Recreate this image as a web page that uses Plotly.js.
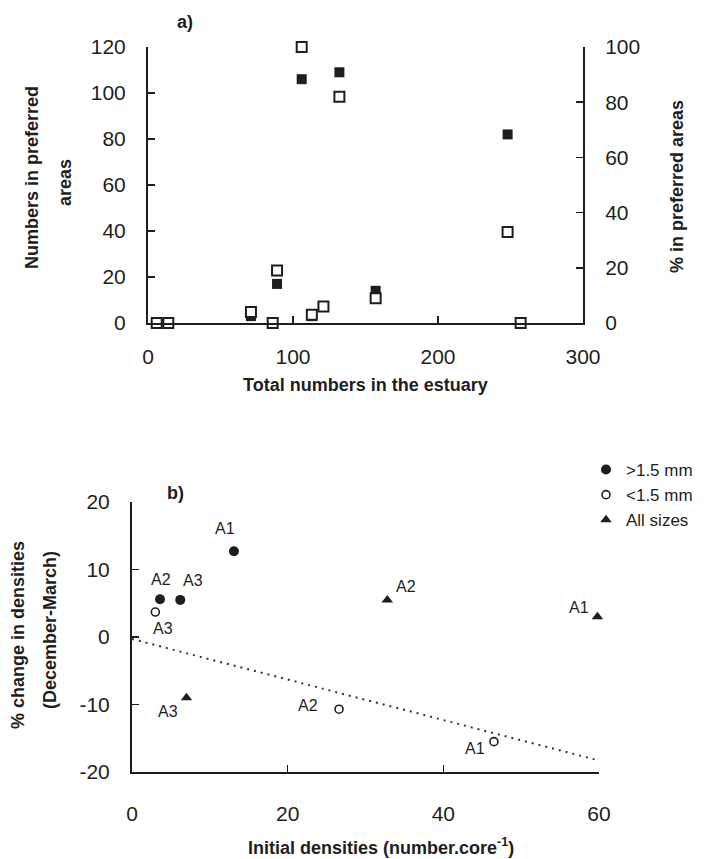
<!DOCTYPE html>
<html>
<head>
<meta charset="utf-8">
<script src="https://cdn.plot.ly/plotly-3.0.1.min.js"></script>
<style>html,body{margin:0;padding:0;background:#fff;}#chart{width:709px;height:859px;}</style>
</head>
<body>
<div id="chart"></div>
<script>
// ---- Panel a data ----
const totalA   = [6, 14, 71, 86, 89, 106, 113, 121, 132, 157, 248, 257];   // total numbers in the estuary
const numbersA = [0, 0, 3, 0, 17, 106, 3, 7, 109, 14, 82, 0];              // numbers in preferred areas (filled)
const pctA     = [0, 0, 4, 0, 19, 100, 3, 6, 82, 9, 33, 0];                // % in preferred areas (open)
const xTicksA  = [0, 100, 200, 300];

// ---- Panel b data ----
const bigX   = [13.1, 3.6, 6.2];
const bigY   = [12.7, 5.6, 5.5];
const bigLab = ['A1', 'A2', 'A3'];
const smallX   = [46.5, 26.6, 3.0];
const smallY   = [-15.5, -10.7, 3.7];
const smallLab = ['A1', 'A2', 'A3'];
const allX   = [59.8, 32.8, 7.0];
const allY   = [3.0, 5.5, -9.0];
const allLab = ['A1', 'A2', 'A3'];
const trendX = [0, 60];
const trendY = [-0.3, -18.3];
const xTicksB = [0, 20, 40, 60];
const yTicksB = [-20, -10, 0, 10, 20];
const yTickTextB = ['-20', '-10', '0', '10', '20'];
const seriesNames = ['>1.5 mm', '<1.5 mm', 'All sizes'];

// ---- layout helpers (pixel -> paper) ----
const W = 709, H = 859;
const px = x => x / W;
const py = y => 1 - y / H;
const FONT = '"Liberation Sans", Arial, sans-serif';
const INK = '#1e1e1e';

// label offsets (style only): [xshift, yshift] in px
const bigOff   = [[-9, 23], [1, 20], [13, 19]];
const smallOff = [[-19, -7], [-31, 4], [8, -16]];
const allOff   = [[-18, 9], [19, 13], [-18, -14]];

const traces = [
  { x: totalA, y: numbersA, xaxis: 'x', yaxis: 'y', type: 'scatter', mode: 'markers',
    marker: { symbol: 'square', size: 10, color: INK, line: { width: 0 } },
    showlegend: false, cliponaxis: false, hoverinfo: 'skip' },
  { x: totalA, y: pctA, xaxis: 'x', yaxis: 'y2', type: 'scatter', mode: 'markers',
    marker: { symbol: 'square', size: 10, color: 'white', line: { width: 2, color: INK } },
    showlegend: false, cliponaxis: false, hoverinfo: 'skip' },
  { x: trendX, y: trendY, xaxis: 'x2', yaxis: 'y3', type: 'scatter', mode: 'lines',
    line: { color: '#333', width: 2, dash: '2px,5px' }, showlegend: false, hoverinfo: 'skip' },
  { x: bigX, y: bigY, xaxis: 'x2', yaxis: 'y3', type: 'scatter', mode: 'markers', name: seriesNames[0],
    marker: { symbol: 'circle', size: 10, color: INK, line: { width: 0 } }, cliponaxis: false },
  { x: smallX, y: smallY, xaxis: 'x2', yaxis: 'y3', type: 'scatter', mode: 'markers', name: seriesNames[1],
    marker: { symbol: 'circle', size: 8, color: 'white', line: { width: 1.6, color: INK } }, cliponaxis: false },
  { x: allX, y: allY, xaxis: 'x2', yaxis: 'y3', type: 'scatter', mode: 'markers', name: seriesNames[2],
    marker: { symbol: 'triangle-up', size: 10, color: INK, line: { width: 0 } }, cliponaxis: false }
];

const annotations = [];
function addLabels(xs, ys, labs, offs) {
  for (let i = 0; i < xs.length; i++) {
    annotations.push({ x: xs[i], y: ys[i], xref: 'x2', yref: 'y3', text: labs[i], showarrow: false,
      xshift: offs[i][0], yshift: offs[i][1], xanchor: 'center', yanchor: 'middle',
      font: { family: FONT, size: 16, color: INK } });
  }
}
addLabels(bigX, bigY, bigLab, bigOff);
addLabels(smallX, smallY, smallLab, smallOff);
addLabels(allX, allY, allLab, allOff);

function paperText(text, x, y, opts) {
  annotations.push(Object.assign({ text: text, x: px(x), y: py(y), xref: 'paper', yref: 'paper',
    showarrow: false, xanchor: 'center', yanchor: 'middle',
    font: { family: FONT, size: 18, color: INK, weight: 'bold' } }, opts || {}));
}
paperText('<b>a)</b>', 185, 22);
paperText('<b>b)</b>', 175, 493);
paperText('<b>Numbers in preferred</b>', 32, 178, { textangle: -90 });
paperText('<b>areas</b>', 65, 183, { textangle: -90 });
paperText('<b>% in preferred areas</b>', 677, 187, { textangle: -90 });
paperText('<b>Total numbers in the estuary</b>', 365, 385);
paperText('<b>% change in densities</b>', 18, 635, { textangle: -90 });
paperText('<b>(December-March)</b>', 50, 630, { textangle: -90 });
paperText('<b>Initial densities (number.core<sup>-1</sup>)</b>', 381, 846);

const axisCommon = {
  showline: true, linewidth: 2, linecolor: INK, showgrid: false, zeroline: false,
  ticks: 'inside', ticklen: 7, tickwidth: 1.5, tickcolor: INK,
  tickfont: { family: FONT, size: 21, color: INK }, fixedrange: true
};

const layout = {
  width: W, height: H,
  margin: { l: 0, r: 0, t: 0, b: 0 },
  paper_bgcolor: 'white', plot_bgcolor: 'rgba(0,0,0,0)',
  font: { family: FONT, color: INK },
  showlegend: true,
  legend: { x: px(586), y: py(452), xanchor: 'left', yanchor: 'top',
    font: { family: FONT, size: 17, color: INK }, bgcolor: 'rgba(0,0,0,0)',
    itemwidth: 30, tracegroupgap: 0, itemclick: false },
  xaxis: Object.assign({}, axisCommon, { domain: [px(148), px(583)], range: [0, 300],
    tickvals: xTicksA, ticklabelstandoff: 14, anchor: 'y' }),
  yaxis: Object.assign({}, axisCommon, { domain: [py(323), py(47)], range: [0, 120],
    dtick: 20, ticklabelstandoff: 16, anchor: 'x' }),
  yaxis2: Object.assign({}, axisCommon, { overlaying: 'y', side: 'right', range: [0, 100],
    dtick: 20, ticklabelstandoff: 16, anchor: 'x' }),
  xaxis2: Object.assign({}, axisCommon, { domain: [px(132), px(599)], range: [0, 60],
    tickvals: xTicksB, ticklabelstandoff: 22, anchor: 'y3' }),
  yaxis3: Object.assign({}, axisCommon, { domain: [py(772), py(502)], range: [-20, 20],
    tickvals: yTicksB, ticktext: yTickTextB, ticklabelstandoff: 16, anchor: 'x2' }),
  annotations: annotations
};

Plotly.newPlot('chart', traces, layout, { displayModeBar: false, staticPlot: true });
</script>
</body>
</html>
